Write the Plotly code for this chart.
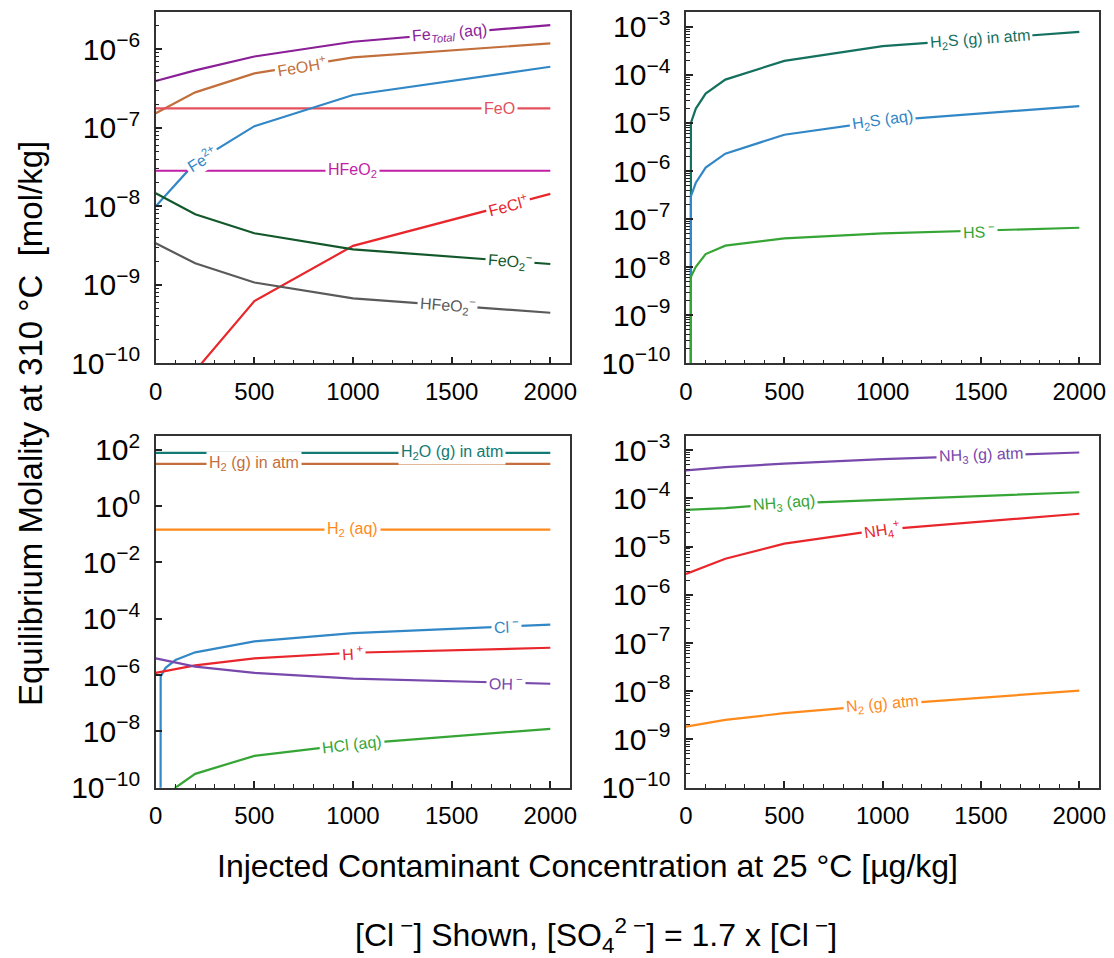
import numpy as np
import plotly.graph_objects as go

# ---------------------------------------------------------------------------
# Injected contaminant concentration (µg/kg at 25 °C) sampled for each group
# ---------------------------------------------------------------------------
conc_fe = [0, 200, 500, 1000, 2000]
conc_s = [0, 25, 50, 100, 200, 500, 1000, 2000]
conc_w = [0, 200, 500, 1000, 2000]
conc_cl = [0, 25, 50, 100, 200, 500, 1000, 2000]
conc_hcl = [0, 100, 200, 500, 1000, 2000]
conc_n = [0, 200, 500, 1000, 2000]

# Iron species, equilibrium molality at 310 °C (mol/kg)
fe_total = [3.95e-7, 5.4e-7, 8.1e-7, 1.25e-6, 2.04e-6]
fe_oh = [1.53e-7, 2.83e-7, 4.94e-7, 7.9e-7, 1.19e-6]
fe_o = [1.77e-7, 1.77e-7, 1.77e-7, 1.77e-7, 1.77e-7]
fe_2plus = [1.0e-8, 3.6e-8, 1.05e-7, 2.62e-7, 6.0e-7]
hfeo2 = [2.84e-8, 2.84e-8, 2.84e-8, 2.84e-8, 2.84e-8]
fe_cl = [0.0, 8.0e-11, 6.2e-10, 3.13e-9, 1.44e-8]
feo2_minus = [1.47e-8, 7.9e-9, 4.53e-9, 2.83e-9, 1.84e-9]
hfeo2_minus = [3.38e-9, 1.88e-9, 1.07e-9, 6.7e-10, 4.4e-10]

# Sulfur species
h2s_gas = [0.0, 1.0e-5, 2.0e-5, 4.1e-5, 8.0e-5, 1.96e-4, 3.96e-4, 7.87e-4]
h2s_aq = [0.0, 3.0e-7, 5.7e-7, 1.18e-6, 2.3e-6, 5.7e-6, 1.11e-5, 2.24e-5]
hs_minus = [0.0, 6.3e-9, 1.02e-8, 1.87e-8, 2.8e-8, 3.97e-8, 5.05e-8, 6.6e-8]

# Water, hydrogen and chloride species
h2o_gas = [78.0, 78.0, 78.0, 78.0, 78.0]
h2_gas = [31.8, 31.8, 31.8, 31.8, 31.8]
h2_aq = [0.146, 0.146, 0.146, 0.146, 0.146]
h_plus = [1.2e-6, 2.2e-6, 3.9e-6, 6.2e-6, 9.3e-6]
oh_minus = [3.9e-6, 2.0e-6, 1.2e-6, 7.4e-7, 4.9e-7]
cl_minus = [0.0, 9.0e-7, 1.8e-6, 3.4e-6, 6.4e-6, 1.57e-5, 3.1e-5, 6.2e-5]
hcl_aq = [0.0, 1.0e-10, 3.1e-10, 1.35e-9, 3.5e-9, 1.23e-8]

# Nitrogen species
nh3_gas = [3.8e-4, 4.43e-4, 5.28e-4, 6.5e-4, 8.95e-4]
nh3_aq = [5.75e-5, 6.3e-5, 7.8e-5, 9.4e-5, 1.34e-4]
nh4_plus = [2.7e-6, 5.6e-6, 1.15e-5, 2.25e-5, 4.8e-5]
n2_gas = [1.85e-9, 2.54e-9, 3.5e-9, 5.2e-9, 1.03e-8]

# ---------------------------------------------------------------------------
W, H = 1114, 958
FONT = "Arial, Liberation Sans, sans-serif"

C_PURPLE = "#8a1f98"
C_BROWN = "#c26f3c"
C_PINK = "#e4505c"
C_BLUE = "#3287c6"
C_MAGENTA = "#c21ea6"
C_RED = "#e8262b"
C_DKGREEN = "#12582a"
C_GREY = "#5a5a5a"
C_TEAL = "#14705f"
C_TEAL2 = "#117a72"
C_GREEN = "#35a535"
C_ORANGE = "#ff8a1c"
C_VIOLET = "#7848ac"

# panel geometry: (x domain, y domain, log10 y range, y dtick, y minor ticks)
panels = {
    1: dict(xd=[0.1398, 0.5117], yd=[0.6208, 0.9870], yr=[-10, -5.53], dt=1, minor=True),
    2: dict(xd=[0.6158, 0.9865], yd=[0.6208, 0.9870], yr=[-10, -2.70], dt=1, minor=True),
    3: dict(xd=[0.1398, 0.5117], yd=[0.1778, 0.5452], yr=[-10, 2.50], dt=2, minor=False),
    4: dict(xd=[0.6158, 0.9865], yd=[0.1778, 0.5452], yr=[-10, -2.70], dt=1, minor=True),
}
X_RANGE = [0, 2100]


def clip_nonpositive(values):
    # zeros are kept on a log axis as the smallest float, so the line drops off-scale
    arr = np.asarray(values, dtype=float)
    return np.where(arr > 0, arr, np.finfo(float).tiny)


fig = go.Figure()
labels = []


def add_series(panel, xs, ys, color, text, xlab, font_size=16):
    ys_c = clip_nonpositive(ys)
    sfx = "" if panel == 1 else str(panel)
    fig.add_trace(go.Scatter(
        x=xs, y=ys_c, mode="lines", line=dict(color=color, width=2.2),
        xaxis="x" + sfx, yaxis="y" + sfx, showlegend=False, hoverinfo="skip"))
    # inline label placed on the line, rotated to follow its local slope
    p = panels[panel]
    px_w = (p["xd"][1] - p["xd"][0]) * W / (X_RANGE[1] - X_RANGE[0])
    px_dec = (p["yd"][1] - p["yd"][0]) * H / (p["yr"][1] - p["yr"][0])
    lx = np.log10(ys_c)
    xs_a = np.asarray(xs, dtype=float)
    i = int(np.clip(np.searchsorted(xs_a, xlab) - 1, 0, len(xs_a) - 2))
    slope = (lx[i + 1] - lx[i]) / (xs_a[i + 1] - xs_a[i])
    ly = lx[i] + slope * (xlab - xs_a[i])
    angle = -np.degrees(np.arctan(slope * px_dec / px_w))
    labels.append(dict(
        x=xlab, y=ly, xref="x" + sfx, yref="y" + sfx, text=text,
        xanchor="center", yanchor="middle",
        showarrow=False, textangle=angle, bgcolor="white", borderpad=2,
        font=dict(family=FONT, size=font_size, color=color)))


# top-left: iron
add_series(1, conc_fe, fe_total, C_PURPLE, "Fe<sub><i>Total</i></sub> (aq)", 1490)
add_series(1, conc_fe, fe_oh, C_BROWN, "FeOH<sup>+</sup>", 740)
add_series(1, conc_fe, fe_o, C_PINK, "FeO", 1745)
add_series(1, conc_fe, fe_2plus, C_BLUE, "Fe<sup>2+</sup>", 232)
add_series(1, conc_fe, hfeo2, C_MAGENTA, "HFeO<sub>2</sub>", 995)
add_series(1, conc_fe, fe_cl, C_RED, "FeCl<sup>+</sup>", 1785)
add_series(1, conc_fe, feo2_minus, C_DKGREEN, "FeO<sub>2</sub><sup>−</sup>", 1795)
add_series(1, conc_fe, hfeo2_minus, C_GREY, "HFeO<sub>2</sub><sup>−</sup>", 1480)

# top-right: sulfur
add_series(2, conc_s, h2s_gas, C_TEAL, "H<sub>2</sub>S (g) in atm", 1496)
add_series(2, conc_s, h2s_aq, C_BLUE, "H<sub>2</sub>S (aq)", 1000)
add_series(2, conc_s, hs_minus, C_GREEN, "HS<sup> −</sup>", 1488)

# bottom-left: water, hydrogen, chloride
add_series(3, conc_w, h2o_gas, C_TEAL2, "H<sub>2</sub>O (g) in atm", 1500)
add_series(3, conc_w, h2_gas, C_BROWN, "H<sub>2</sub> (g) in atm", 498)
add_series(3, conc_w, h2_aq, C_ORANGE, "H<sub>2</sub> (aq)", 995)
add_series(3, conc_cl, cl_minus, C_BLUE, "Cl<sup> −</sup>", 1777)
add_series(3, conc_w, h_plus, C_RED, "H<sup> +</sup>", 995)
add_series(3, conc_w, oh_minus, C_VIOLET, "OH<sup> −</sup>", 1777)
add_series(3, conc_hcl, hcl_aq, C_GREEN, "HCl (aq)", 995)

# bottom-right: nitrogen
add_series(4, conc_n, nh3_gas, C_VIOLET, "NH<sub>3</sub> (g) atm", 1500)
add_series(4, conc_n, nh3_aq, C_GREEN, "NH<sub>3</sub> (aq)", 496)
add_series(4, conc_n, nh4_plus, C_RED, "NH<sub>4</sub><sup>+</sup>", 998)
add_series(4, conc_n, n2_gas, C_ORANGE, "N<sub>2</sub> (g) atm", 998)

axis_font = dict(family=FONT, size=24, color="black")
layout = dict(
    template="none",
    width=W, height=H, margin=dict(l=0, r=0, t=0, b=0, pad=0),
    paper_bgcolor="white", plot_bgcolor="white", showlegend=False,
    font=dict(family=FONT, color="black"),
)
for k, p in panels.items():
    sfx = "" if k == 1 else str(k)
    layout["xaxis" + sfx] = dict(
        domain=p["xd"], range=X_RANGE, anchor="y" + sfx, automargin=False,
        tickmode="linear", tick0=0, dtick=500, ticks="inside", ticklen=7,
        tickwidth=1.5, tickcolor="#222", showline=True, mirror=True,
        linecolor="#333", linewidth=1.5, showgrid=False, zeroline=False,
        tickfont=axis_font, ticklabelstandoff=6,
        minor=dict(dtick=100, ticks="inside", ticklen=4, tickwidth=1.2,
                   tickcolor="#222", showgrid=False),
    )
    yax = dict(
        domain=p["yd"], type="log", range=p["yr"], anchor="x" + sfx,
        automargin=False,
        tickmode="linear", tick0=0, dtick=p["dt"], exponentformat="power",
        showexponent="all", labelalias={"1": "10<sup>0</sup>"},
        ticks="inside", ticklen=7, tickwidth=1.5,
        tickcolor="#222", showline=True, mirror=True, linecolor="#333",
        linewidth=1.5, showgrid=False, zeroline=False, tickfont=axis_font,
        ticklabelstandoff=9,
    )
    if p["minor"]:
        yax["minor"] = dict(dtick="D1", ticks="inside", ticklen=4,
                            tickwidth=1.0, tickcolor="#222", showgrid=False)
    layout["yaxis" + sfx] = yax

title_font = dict(family=FONT, size=32, color="black")
labels += [
    dict(x=30 / W, y=1 - 424 / H, xref="paper", yref="paper", showarrow=False,
         xanchor="center", yanchor="middle", textangle=-90,
         font=dict(family=FONT, size=33, color="black"),
         text="Equilibrium Molality at 310 °C\u00a0 [mol/kg]"),
    dict(x=587 / W, y=1 - 866 / H, xref="paper", yref="paper", showarrow=False,
         xanchor="center", yanchor="middle", font=title_font,
         text="Injected Contaminant Concentration at 25 °C [µg/kg]"),
    dict(x=596 / W, y=1 - 935 / H, xref="paper", yref="paper", showarrow=False,
         xanchor="center", yanchor="middle", font=title_font,
         text="[Cl<sup> −</sup>] Shown, [SO<sub>4</sub><sup>2 −</sup>] = 1.7 x [Cl<sup> −</sup>]"),
]
layout["annotations"] = labels
fig.update_layout(**layout)
fig.write_html("out.html")
